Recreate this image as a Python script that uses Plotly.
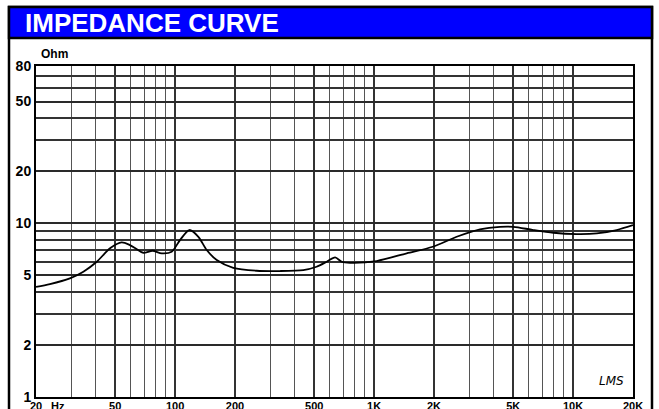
import numpy as np
import plotly.graph_objects as go

# ---- data ----
freq_hz = [20, 23.5, 29.6, 34.6, 40.4, 47.1, 53.9, 59.3, 64, 69.2, 77.1, 85.6, 96.1,
           105.8, 117.9, 130.9, 144.2, 161.9, 196, 257, 336, 441, 514, 578, 637, 688,
           757, 1030, 1458, 1972, 2600, 3406, 4292, 5010, 6310, 7960, 10420, 13150,
           16560, 20000]
impedance_ohm = [4.30, 4.46, 4.81, 5.25, 5.99, 7.16, 7.75, 7.47, 7.10, 6.75, 6.93, 6.70,
                 6.84, 7.98, 9.12, 8.34, 7.00, 6.13, 5.53, 5.32, 5.30, 5.37, 5.61, 5.99,
                 6.35, 5.99, 5.91, 6.05, 6.70, 7.31, 8.34, 9.20, 9.52, 9.52, 9.12, 8.80,
                 8.65, 8.72, 9.12, 9.73]

x_major_vals = [20, 50, 100, 200, 500, 1000, 2000, 5000, 10000, 20000]
x_major_text = ["20", "50", "100", "200", "500", "1K", "2K", "5K", "10K", "20K"]
x_minor_vals = [30, 40, 60, 70, 80, 90, 300, 400, 600, 700, 800, 900,
                3000, 4000, 6000, 7000, 8000, 9000]
y_major_vals = [1, 2, 5, 10, 20, 50, 80]
y_major_text = ["1", "2", "5", "10", "20", "50", "80"]
y_minor_vals = [3, 4, 6, 7, 8, 9, 30, 40, 60, 70]

W, H = 659, 409
L, R, T, B = 36, 633, 66, 397  # plot area in pixels


def px(xp):
    return (xp - L) / (R - L)


def py(yp):
    return (B - yp) / (B - T)


fig = go.Figure()
fig.add_trace(go.Scatter(x=freq_hz, y=impedance_ohm, mode="lines",
                         line=dict(color="black", width=1.8, shape="spline", smoothing=0.8),
                         hoverinfo="skip", showlegend=False))

fig.update_layout(
    width=W, height=H,
    margin=dict(l=L, r=W - R, t=T, b=H - B, autoexpand=False),
    paper_bgcolor="white", plot_bgcolor="white",
    font=dict(family="Liberation Sans, Arial, sans-serif", color="black"),
    xaxis=dict(type="log", range=[np.log10(20), np.log10(20000)],
               tickmode="array", tickvals=x_major_vals, ticktext=x_major_text,
               tickfont=dict(size=11, family="Liberation Sans", color="black", weight="bold"),
               ticks="", ticklabelstandoff=-2,
               showgrid=True, gridcolor="#333333", gridwidth=1.6,
               minor=dict(tickmode="array", tickvals=x_minor_vals, showgrid=True,
                          gridcolor="#555555", gridwidth=1.4, ticks=""),
               showline=True, linecolor="black", linewidth=2, mirror=True,
               zeroline=False, automargin=False),
    yaxis=dict(type="log", range=[0, np.log10(80)],
               tickmode="array", tickvals=y_major_vals, ticktext=y_major_text,
               tickfont=dict(size=14, family="Liberation Sans", color="black", weight="bold"),
               ticks="", showgrid=True, gridcolor="#2a2a2a", gridwidth=1.6,
               minor=dict(tickmode="array", tickvals=y_minor_vals, showgrid=True,
                          gridcolor="#333333", gridwidth=1.5, ticks=""),
               showline=True, linecolor="black", linewidth=2, mirror=True,
               zeroline=False, automargin=False),
)

shapes = [
    # outer frame
    dict(type="rect", xref="paper", yref="paper", x0=px(9), x1=px(652), y0=py(413), y1=py(7),
         line=dict(color="black", width=2.5), fillcolor="rgba(0,0,0,0)", layer="above"),
    # title bar
    dict(type="rect", xref="paper", yref="paper", x0=px(9), x1=px(652), y0=py(38), y1=py(7),
         line=dict(color="black", width=2.5), fillcolor="#0000FF", layer="above"),
]
fig.update_layout(shapes=shapes)

annotations = [
    dict(text="<b>IMPEDANCE CURVE</b>", xref="paper", yref="paper", x=px(23), y=py(23),
         xanchor="left", yanchor="middle", showarrow=False,
         font=dict(size=26, color="white", family="Liberation Sans")),
    dict(text="<b>Ohm</b>", xref="paper", yref="paper", x=px(39), y=py(54),
         xanchor="left", yanchor="middle", showarrow=False,
         font=dict(size=12, color="black", family="Liberation Sans")),
    dict(text="<b>Hz</b>", xref="paper", yref="paper", x=px(49), y=py(406),
         xanchor="left", yanchor="middle", showarrow=False,
         font=dict(size=11, color="black", family="Liberation Sans")),
    dict(text="<i>LMS</i>", xref="paper", yref="paper", x=px(611), y=py(381),
         xanchor="center", yanchor="middle", showarrow=False,
         font=dict(size=12, color="black", family="DejaVu Sans")),
]
fig.update_layout(annotations=annotations)

fig.write_html("out.html", post_script="document.body.style.margin='0';",
               config={"displayModeBar": False})
